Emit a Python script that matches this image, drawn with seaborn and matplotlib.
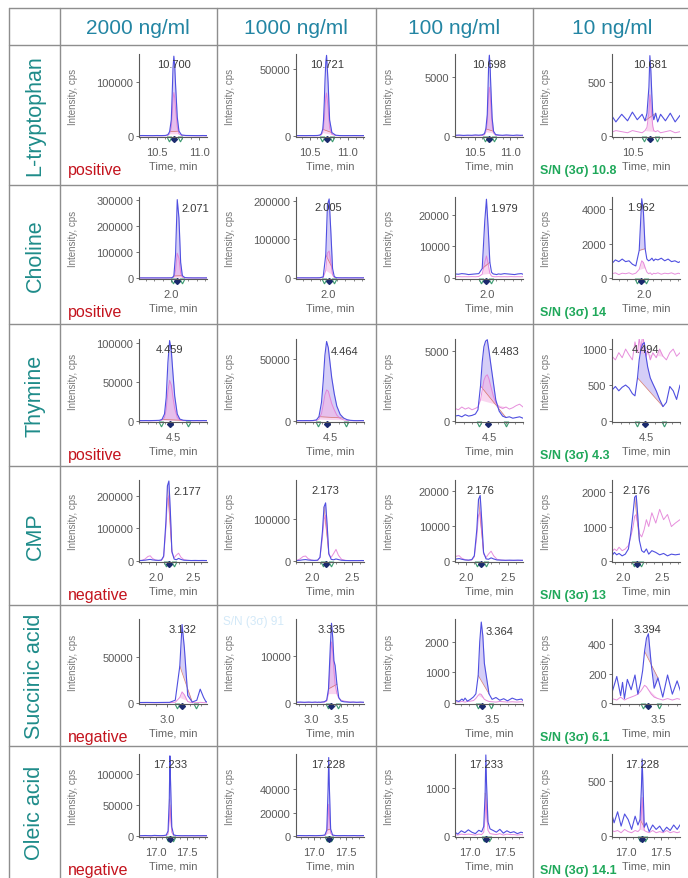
#Import libraries
import numpy as np
import matplotlib
matplotlib.use("Agg")
import matplotlib.pyplot as plt
import matplotlib.transforms as mtransforms
from matplotlib.ticker import MultipleLocator
import seaborn as sns

#Table headers
concentrations = ["2000 ng/ml", "1000 ng/ml", "100 ng/ml", "10 ng/ml"]
compounds = ["L-tryptophan", "Choline", "Thymine", "CMP", "Succinic acid", "Oleic acid"]
polarity = ["positive", "positive", "positive", "negative", "negative", "negative"]
sn_values = ["10.8", "14", "4.3", "13", "6.1", "14.1"]

#L-tryptophan
trp_t = [10.21, 10.27, 10.33, 10.39, 10.45, 10.50, 10.55, 10.60, 10.63, 10.65, 10.67, 10.68, 10.69, 10.70,
         10.71, 10.72, 10.74, 10.76, 10.79, 10.84, 10.89, 10.94, 10.99, 11.04, 11.09, 11.14, 11.21]
trp_2000 = [800, 700, 900, 800, 700, 900, 800, 1000, 2500, 8000, 30000, 75000, 125000, 147000,
            130000, 95000, 35000, 9000, 2000, 1000, 900, 800, 700, 900, 800, 700, 800]
trp_2000_pk = [300, 300, 400, 300, 300, 400, 300, 400, 1200, 4000, 16000, 40000, 68000, 80000,
               70000, 50000, 17000, 4000, 1000, 500, 400, 300, 300, 400, 300, 300, 300]
trp_1000 = [300, 350, 300, 320, 300, 350, 330, 400, 700, 1500, 5000, 12000, 25000, 42000,
            55000, 60000, 40000, 12000, 2500, 600, 350, 300, 320, 300, 350, 300, 320]
trp_1000_pk = [150, 150, 200, 150, 150, 200, 150, 200, 350, 800, 2500, 6000, 13000, 22000,
               29000, 32000, 21000, 6000, 1200, 300, 200, 150, 150, 200, 150, 150, 150]
trp_100 = [60, 80, 50, 70, 60, 90, 70, 100, 200, 600, 1800, 3800, 6000, 6800,
           6000, 4300, 1500, 400, 120, 80, 60, 90, 70, 50, 80, 60, 70]
trp_100_pk = [20, 30, 20, 30, 20, 30, 30, 40, 100, 350, 1100, 2300, 3600, 4100,
              3600, 2600, 900, 250, 60, 40, 30, 30, 20, 30, 20, 30, 20]
trp_10 = [150, 210, 130, 200, 140, 220, 150, 200, 140, 210, 450, 740, 600, 380,
          200, 150, 210, 130, 200, 140, 210, 130, 190, 150, 200, 140, 180]
trp_10_pk = [40, 30, 50, 40, 30, 50, 40, 30, 50, 80, 220, 380, 300, 180,
             90, 50, 40, 50, 30, 40, 50, 30, 40, 50, 30, 40, 30]
trp_rt = [10.700, 10.721, 10.698, 10.681]
trp_yticks = [[0, 100000], [0, 50000], [0, 5000], [0, 500]]
trp_ymax = [151000, 61000, 6900, 755]
trp_xticks = [10.5, 11.0]

#Choline
cho_t = [1.62, 1.66, 1.70, 1.74, 1.78, 1.82, 1.86, 1.90, 1.94, 1.97, 1.99, 2.01, 2.03,
         2.05, 2.07, 2.09, 2.11, 2.13, 2.16, 2.20, 2.24, 2.28, 2.32, 2.36, 2.40, 2.42]
cho_2000 = [500, 600, 500, 500, 600, 500, 500, 600, 500, 600, 700, 1500, 8000,
            90000, 300000, 230000, 60000, 9000, 1500, 800, 600, 500, 600, 500, 500, 600]
cho_2000_pk = [200, 250, 200, 200, 250, 200, 200, 250, 200, 250, 300, 600, 3000,
               30000, 95000, 75000, 20000, 3000, 600, 300, 250, 200, 250, 200, 200, 250]
cho_1000 = [500, 500, 600, 500, 500, 600, 500, 700, 3000, 60000, 190000, 205000, 120000,
            25000, 4000, 1200, 700, 600, 500, 600, 500, 500, 600, 500, 500, 600]
cho_1000_pk = [200, 200, 250, 200, 200, 250, 200, 300, 1200, 20000, 65000, 70000, 40000,
               8000, 1500, 500, 300, 250, 200, 250, 200, 200, 250, 200, 200, 250]
cho_100 = [1300, 1200, 1400, 1300, 1100, 1200, 1300, 1400, 3000, 18000, 25000, 16000, 5000,
           1800, 1300, 1200, 1100, 1300, 1200, 1400, 1300, 1200, 1100, 1300, 1400, 1200]
cho_100_pk = [400, 450, 400, 420, 400, 450, 400, 500, 1200, 5000, 7000, 4500, 1500,
              600, 450, 400, 420, 450, 400, 420, 400, 450, 400, 420, 400, 450]
cho_10 = [850, 1050, 950, 1100, 950, 1000, 800, 700, 1600, 4600, 3800, 1700, 1100,
          1000, 1050, 1150, 1000, 1100, 1050, 1150, 1000, 1100, 950, 1000, 900, 950]
cho_10_pk = [250, 300, 200, 280, 250, 300, 220, 280, 500, 1000, 900, 600, 350,
             250, 300, 200, 280, 250, 300, 220, 280, 250, 300, 220, 280, 250]
cho_rt = [2.071, 2.005, 1.979, 1.962]
cho_yticks = [[0, 100000, 200000, 300000], [0, 100000, 200000], [0, 10000, 20000], [0, 2000, 4000]]
cho_ymax = [310000, 210000, 25700, 4700]
cho_xticks = [1.5, 2.0, 2.5]

#Thymine
thy_t = [4.10, 4.14, 4.18, 4.22, 4.26, 4.30, 4.34, 4.37, 4.40, 4.42, 4.44, 4.46, 4.48,
         4.50, 4.52, 4.55, 4.58, 4.62, 4.66, 4.70, 4.74, 4.78, 4.82, 4.86, 4.90]
thy_2000 = [600, 500, 600, 500, 600, 700, 900, 2000, 9000, 30000, 75000, 103000, 90000,
            60000, 32000, 9000, 2500, 1000, 700, 600, 500, 600, 500, 600, 500]
thy_2000_pk = [300, 250, 300, 250, 300, 350, 450, 1000, 4500, 15000, 38000, 52000, 46000,
               30000, 16000, 4500, 1200, 500, 350, 300, 250, 300, 250, 300, 250]
thy_1000 = [300, 350, 300, 350, 300, 400, 900, 3500, 15000, 32000, 53000, 64000, 59000,
            47000, 35000, 22000, 12000, 5300, 2400, 1100, 550, 350, 300, 350, 300]
thy_1000_pk = [200, 200, 200, 200, 200, 250, 400, 1500, 6000, 13000, 21000, 25000, 24000,
               19000, 14000, 9000, 4700, 2100, 950, 500, 270, 200, 200, 200, 200]
thy_100 = [350, 400, 300, 450, 350, 400, 500, 800, 2500, 4200, 5300, 5700, 5800,
           5000, 4100, 2800, 1500, 700, 350, 250, 300, 200, 250, 300, 200]
thy_100_pk = [900, 800, 1000, 850, 950, 800, 900, 1000, 1500, 2200, 2900, 3200, 3300,
              3000, 2500, 1800, 1300, 1000, 900, 1000, 850, 950, 1100, 1200, 1000]
thy_10 = [430, 480, 420, 470, 500, 460, 380, 350, 600, 850, 1000, 1070, 1090,
          900, 750, 600, 520, 420, 300, 200, 260, 480, 420, 300, 500]
thy_10_pk = [900, 850, 950, 880, 1000, 920, 850, 1100, 950, 1150, 1000, 1200, 1050,
             900, 1000, 850, 950, 880, 1000, 900, 850, 950, 1000, 900, 950]
thy_rt = [4.459, 4.464, 4.483, 4.494]
thy_yticks = [[0, 50000, 100000], [0, 50000], [0, 5000], [0, 500, 1000]]
thy_ymax = [105000, 66000, 5850, 1140]
thy_xticks = [4.0, 4.5, 5.0]

#CMP
cmp_t = [1.77, 1.81, 1.85, 1.89, 1.92, 1.95, 1.99, 2.03, 2.07, 2.10, 2.13, 2.15, 2.17, 2.19,
         2.21, 2.24, 2.27, 2.30, 2.33, 2.37, 2.42, 2.47, 2.52, 2.57, 2.62, 2.67, 2.73]
cmp_2000 = [1500, 1800, 2500, 4000, 5000, 3500, 2500, 2000, 3000, 15000, 120000, 230000, 245000, 150000,
            30000, 6000, 4000, 8000, 5000, 2500, 2000, 1500, 1800, 1500, 1700, 1500, 1600]
cmp_2000_pk = [1000, 2000, 6000, 14000, 16000, 8000, 3000, 1500, 2000, 12000, 100000, 190000, 200000, 120000,
               25000, 10000, 18000, 24000, 12000, 4000, 2000, 1500, 1000, 1200, 1000, 1100, 1000]
cmp_1000 = [1000, 1200, 1800, 3000, 3500, 2500, 1800, 1500, 2000, 9000, 70000, 130000, 140000, 85000,
            18000, 4000, 3000, 5000, 3500, 1800, 1200, 1000, 1100, 1000, 1200, 1000, 1100]
cmp_1000_pk = [800, 1500, 5000, 11000, 12000, 6000, 2500, 1200, 1500, 8000, 55000, 100000, 110000, 65000,
               15000, 9000, 18000, 28000, 14000, 4000, 1500, 1000, 900, 1000, 800, 900, 800]
cmp_100 = [200, 250, 400, 600, 700, 500, 300, 250, 400, 1500, 9000, 17500, 18600, 11000,
           2500, 600, 500, 900, 600, 300, 250, 200, 250, 200, 250, 200, 220]
cmp_100_pk = [150, 300, 800, 1400, 1500, 800, 400, 200, 300, 1200, 7000, 13000, 14000, 8000,
              2000, 1000, 2000, 2800, 1500, 500, 250, 200, 150, 200, 150, 200, 150]
cmp_10 = [150, 200, 120, 250, 180, 220, 150, 200, 350, 800, 1400, 1850, 1900, 1300,
          600, 300, 250, 350, 200, 300, 250, 180, 220, 150, 200, 180, 200]
cmp_10_pk = [200, 300, 250, 350, 300, 400, 300, 350, 450, 700, 1000, 1300, 1350, 1100,
             800, 700, 900, 1200, 1000, 1400, 1100, 1500, 1200, 1350, 1000, 1100, 1200]
cmp_rt = [2.177, 2.173, 2.176, 2.176]
cmp_yticks = [[0, 100000, 200000], [0, 100000], [0, 10000, 20000], [0, 1000, 2000]]
cmp_ymax = [248000, 195000, 23000, 2350]
cmp_xticks = [2.0, 2.5]

#Succinic acid
suc_t = [2.75, 2.82, 2.89, 2.96, 3.02, 3.07, 3.11, 3.13, 3.15, 3.18, 3.22, 3.26, 3.29, 3.32, 3.34,
         3.36, 3.38, 3.40, 3.43, 3.46, 3.50, 3.55, 3.60, 3.65, 3.70, 3.76, 3.82, 3.88, 3.90]
suc_2000 = [500, 600, 500, 600, 700, 3000, 40000, 85000, 60000, 8000, 1000, 3000, 15000, 6000, 1500,
            800, 600, 500, 600, 500, 600, 500, 600, 500, 600, 500, 600, 500, 600]
suc_2000_pk = [200, 250, 200, 250, 300, 800, 6000, 12000, 9000, 1500, 300, 400, 700, 400, 300,
               250, 200, 250, 200, 250, 200, 250, 200, 250, 200, 250, 200, 250, 200]
suc_1000 = [150, 200, 150, 200, 150, 200, 150, 200, 150, 200, 250, 600, 3000, 12000, 17000,
            14000, 9000, 8000, 4000, 1200, 400, 250, 200, 150, 200, 150, 200, 150, 200]
suc_1000_pk = [100, 120, 100, 120, 100, 120, 100, 120, 100, 150, 200, 400, 2000, 9000, 13000,
               11000, 7000, 4000, 2000, 1000, 600, 400, 300, 200, 150, 120, 100, 120, 100]
suc_100 = [80, 120, 60, 140, 90, 50, 130, 80, 160, 60, 120, 200, 300, 900, 2000,
           2650, 2200, 1300, 800, 300, 120, 180, 90, 140, 70, 160, 100, 130, 80]
suc_100_pk = [30, 40, 30, 50, 40, 30, 50, 40, 30, 50, 60, 80, 150, 250, 300,
              280, 200, 120, 80, 50, 40, 30, 50, 40, 30, 40, 30, 40, 30]
suc_10 = [60, 150, 40, 130, 70, 180, 50, 140, 30, 160, 90, 190, 60, 140, 220,
          350, 440, 470, 260, 100, 170, 40, 190, 60, 150, 30, 140, 70, 120]
suc_10_pk = [20, 30, 20, 40, 30, 20, 40, 30, 20, 30, 40, 50, 60, 80, 100,
             120, 110, 90, 60, 40, 30, 20, 30, 20, 30, 20, 30, 20, 30]
suc_rt = [3.132, 3.335, 3.364, 3.394]
suc_yticks = [[0, 50000], [0, 10000], [0, 1000, 2000], [0, 200, 400]]
suc_ymax = [91000, 17900, 2750, 570]
suc_xticks = [3.0, 3.5]

#Oleic acid
ole_t = [16.72, 16.78, 16.83, 16.88, 16.93, 16.98, 17.03, 17.08, 17.13, 17.17, 17.20, 17.22, 17.23, 17.24,
         17.26, 17.29, 17.33, 17.38, 17.43, 17.48, 17.53, 17.58, 17.63, 17.68, 17.73, 17.78, 17.83]
ole_2000 = [500, 600, 800, 600, 500, 1000, 700, 600, 800, 1500, 8000, 60000, 130000, 90000,
            15000, 2000, 800, 600, 500, 600, 500, 600, 500, 600, 500, 600, 500]
ole_2000_pk = [200, 250, 300, 250, 200, 400, 300, 250, 300, 600, 3000, 25000, 50000, 35000,
               6000, 800, 300, 250, 200, 250, 200, 250, 200, 250, 200, 250, 200]
ole_1000 = [300, 400, 350, 300, 400, 350, 300, 400, 500, 900, 5000, 40000, 67000, 42000,
            6000, 900, 400, 300, 350, 400, 300, 350, 400, 300, 350, 400, 300]
ole_1000_pk = [150, 200, 150, 150, 200, 150, 150, 200, 250, 400, 2000, 16000, 27000, 17000,
               2500, 400, 200, 150, 150, 200, 150, 150, 200, 150, 150, 200, 150]
ole_100 = [60, 90, 40, 110, 70, 130, 80, 50, 120, 90, 200, 900, 1700, 1100,
           300, 150, 120, 80, 140, 60, 110, 70, 90, 50, 80, 60, 90]
ole_100_pk = [20, 30, 20, 40, 30, 40, 30, 20, 40, 30, 80, 400, 800, 500,
              120, 50, 40, 30, 50, 20, 40, 30, 30, 20, 30, 20, 30]
ole_10 = [80, 240, 120, 220, 90, 200, 150, 60, 180, 100, 150, 450, 700, 500,
          80, 120, 40, 100, 60, 90, 40, 80, 50, 100, 60, 110, 130]
ole_10_pk = [30, 60, 40, 50, 30, 60, 40, 30, 50, 40, 60, 200, 350, 250,
             50, 40, 30, 50, 30, 40, 30, 50, 30, 40, 30, 40, 50]
ole_rt = [17.233, 17.228, 17.233, 17.228]
ole_yticks = [[0, 50000, 100000], [0, 20000, 40000], [0, 1000], [0, 500]]
ole_ymax = [133000, 70000, 1720, 745]
ole_xticks = [17.0, 17.5]

#Build one options table per row for the loop
rows = [
    dict(t=trp_t, blue=[trp_2000, trp_1000, trp_100, trp_10], pink=[trp_2000_pk, trp_1000_pk, trp_100_pk, trp_10_pk],
         rt=trp_rt, yticks=trp_yticks, ymax=trp_ymax, xticks=trp_xticks),
    dict(t=cho_t, blue=[cho_2000, cho_1000, cho_100, cho_10], pink=[cho_2000_pk, cho_1000_pk, cho_100_pk, cho_10_pk],
         rt=cho_rt, yticks=cho_yticks, ymax=cho_ymax, xticks=cho_xticks),
    dict(t=thy_t, blue=[thy_2000, thy_1000, thy_100, thy_10], pink=[thy_2000_pk, thy_1000_pk, thy_100_pk, thy_10_pk],
         rt=thy_rt, yticks=thy_yticks, ymax=thy_ymax, xticks=thy_xticks),
    dict(t=cmp_t, blue=[cmp_2000, cmp_1000, cmp_100, cmp_10], pink=[cmp_2000_pk, cmp_1000_pk, cmp_100_pk, cmp_10_pk],
         rt=cmp_rt, yticks=cmp_yticks, ymax=cmp_ymax, xticks=cmp_xticks),
    dict(t=suc_t, blue=[suc_2000, suc_1000, suc_100, suc_10], pink=[suc_2000_pk, suc_1000_pk, suc_100_pk, suc_10_pk],
         rt=suc_rt, yticks=suc_yticks, ymax=suc_ymax, xticks=suc_xticks),
    dict(t=ole_t, blue=[ole_2000, ole_1000, ole_100, ole_10], pink=[ole_2000_pk, ole_1000_pk, ole_100_pk, ole_10_pk],
         rt=ole_rt, yticks=ole_yticks, ymax=ole_ymax, xticks=ole_xticks),
]

#Layout (pixels on the 688x879 canvas)
W, H = 688, 879
col_left = [60, 217, 376, 533]
row_top = [46, 186, 325, 467, 606, 747]
ax_top = [55, 198, 340, 481, 620, 755]
ax_bot = [138, 280, 423, 563, 705, 838]
x_limits = [
    [(10.29, 11.09), (10.32, 11.21), (10.21, 11.18), (10.29, 10.99)],
    [(1.62, 2.42)] * 4,
    [(4.1, 4.9)] * 4,
    [(1.77, 2.68), (1.80, 2.65), (1.87, 2.68), (1.86, 2.73)],
    [(2.75, 3.35), (2.75, 3.88), (3.02, 3.90), (3.02, 3.73)],
    [(16.73, 17.83), (16.72, 17.78), (16.79, 17.76), (16.80, 17.77)],
]
label_side = [list("cccc"), list("rcrc"), list("crrc"), list("rccc"), list("ccrc"), list("cccc")]
windows = [(0.06, 0.07), (0.05, 0.06), (0.10, 0.22), (0.04, 0.06), (0.05, 0.12), (0.03, 0.04)]

BLUE = "#4f4fe0"
PINK = "#e27ad6"
FILL_BLUE = "#b9aef2"
FILL_PINK = "#f5b3e3"
GRID = "#8e8e8e"
TICK = "#5a5a5a"

sns.set_style("white")
plt.rcParams["font.family"] = ["Liberation Sans", "DejaVu Sans"]

fig = plt.figure(figsize=(W / 100, H / 100), dpi=100)

#Background axes in pixel units for the table
bg = fig.add_axes([0, 0, 1, 1])
bg.set_xlim(0, W)
bg.set_ylim(H, 0)
bg.axis("off")
for y in [9] + row_top:
    bg.plot([9, W], [y, y], color=GRID, lw=1.0)
for x in [9] + col_left:
    bg.plot([x, x], [9, H], color=GRID, lw=1.0)

col_centers = [138, 296, 454, 612]
for c, name in enumerate(concentrations):
    bg.text(col_centers[c], 28, name, ha="center", va="center", fontsize=15, color="#2385a3")

for r, name in enumerate(compounds):
    rb = row_top[r + 1] if r + 1 < len(row_top) else H
    bg.text(35, (row_top[r] + rb) / 2, name, ha="center", va="center", rotation=90,
            fontsize=15.5, color="#1f8c8a")
    bg.text(68, ax_bot[r] + 33, polarity[r], ha="left", va="center", fontsize=11.5, color="#c4141e")
    bg.text(540, ax_bot[r] + 33, "S/N (3σ) " + sn_values[r], ha="left", va="center", fontsize=9,
            fontweight="bold", color="#1fa85a")

#faint leftover label in the succinic acid 1000 ng/ml cell
bg.text(223, 622, "S/N (3σ) 91", ha="left", va="center", fontsize=8.5, color="#d3e9f8")

for r, row in enumerate(rows):
    t = np.array(row["t"])
    for c in range(4):
        left = col_left[c] + 79
        ax = fig.add_axes([left / W, 1 - ax_bot[r] / H, 68 / W, (ax_bot[r] - ax_top[r]) / H])
        blue = np.array(row["blue"][c], dtype=float)
        pink = np.array(row["pink"][c], dtype=float)
        rt = row["rt"][c]
        ymax = row["ymax"][c]

        #integration window fill
        b0, b1 = windows[r]
        m = (t >= rt - b0) & (t <= rt + b1)
        tw = t[m]
        for vals, fc, al in [(blue, FILL_BLUE, 0.6), (pink, FILL_PINK, 0.55)]:
            yw = vals[m]
            base = np.interp(tw, [tw[0], tw[-1]], [yw[0], yw[-1]])
            ax.fill_between(tw, base, yw, color=fc, alpha=al, lw=0)
        base_b = np.interp(tw, [tw[0], tw[-1]], [blue[m][0], blue[m][-1]])
        ax.plot(tw, base_b, color="#d0604a", lw=0.5, alpha=0.8)

        sns.lineplot(x=t, y=pink, ax=ax, color=PINK, linewidth=0.7, alpha=0.85, legend=False)
        sns.lineplot(x=t, y=blue, ax=ax, color=BLUE, linewidth=0.8, legend=False)

        #ticks first, then limits, so the ticks do not widen the view
        ax.set_yticks(row["yticks"][c])
        ax.set_yticklabels([str(v) for v in row["yticks"][c]])
        ax.set_xticks(row["xticks"])
        ax.set_xticklabels([f"{v:.1f}" for v in row["xticks"]])
        ax.xaxis.set_minor_locator(MultipleLocator(0.1))
        ax.set_xlim(*x_limits[r][c])
        ax.set_ylim(-0.012 * ymax, ymax)

        for s in ["top", "right"]:
            ax.spines[s].set_visible(False)
        for s in ["left", "bottom"]:
            ax.spines[s].set_color(TICK)
            ax.spines[s].set_linewidth(0.8)
        ax.tick_params(axis="y", length=2.5, width=0.6, pad=1.5, labelsize=8, colors=TICK, left=True)
        ax.tick_params(axis="x", which="major", length=2.5, width=0.6, pad=4.5, labelsize=8, colors=TICK, bottom=True)
        ax.tick_params(axis="x", which="minor", length=1.5, width=0.5, colors=TICK, bottom=True)

        ax.set_xlabel("Time, min", fontsize=8, color="#666666", labelpad=3)
        ax.set_ylabel("Intensity, cps", fontsize=7, color="#777777")
        ax.yaxis.set_label_coords(-0.90, 0.5)

        #peak apex label
        trans = mtransforms.blended_transform_factory(ax.transData, ax.transAxes)
        if label_side[r][c] == "r":
            ax.annotate(f"{rt:.3f}", xy=(rt, 0.86), xycoords=trans, xytext=(3, 0), textcoords="offset points",
                        ha="left", va="center", fontsize=8, color="#3a3a3a")
        else:
            ax.annotate(f"{rt:.3f}", xy=(rt, 0.88), xycoords=trans, ha="center", va="center",
                        fontsize=8, color="#3a3a3a")

        #peak start/end and apex markers
        ax.plot([rt - b0, rt + b1], [-0.02, -0.02], "v", mfc="none", mec="#3b9a70", ms=3.5, mew=0.8,
                transform=trans, clip_on=False)
        ax.plot([rt], [-0.025], "D", color="#1b2a6e", ms=3, transform=trans, clip_on=False)

plt.savefig("out.png", dpi=100)
print("File Saved")
